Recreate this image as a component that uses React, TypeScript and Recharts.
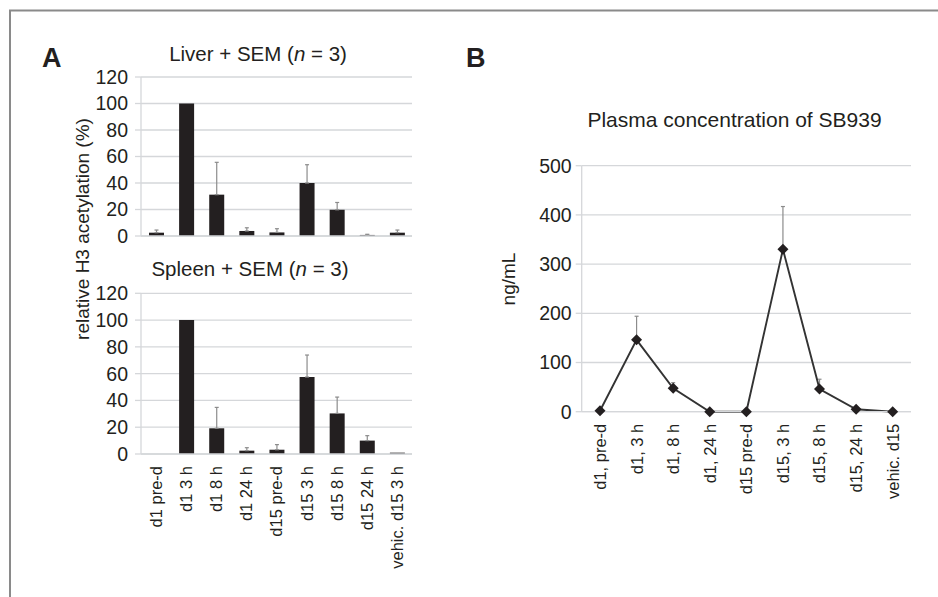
import React from 'react';
import { BarChart, Bar, LineChart, Line, XAxis, YAxis, CartesianGrid, ErrorBar } from 'recharts';

// categories
const tissueTimes = ['d1 pre-d', 'd1 3 h', 'd1 8 h', 'd1 24 h', 'd15 pre-d', 'd15 3 h', 'd15 8 h', 'd15 24 h', 'vehic. d15 3 h'];
const plasmaTimes = ['d1, pre-d', 'd1, 3 h', 'd1, 8 h', 'd1, 24 h', 'd15 pre-d', 'd15, 3 h', 'd15, 8 h', 'd15, 24 h', 'vehic. d15'];

// relative H3 acetylation (%) + SEM
const liver = [2.5, 100, 31.2, 3.8, 2.7, 40, 19.8, 0.8, 2.5];
const liverSem = [2, null, 24.4, 2.4, 2.8, 13.8, 5.5, 0.5, 2];
const spleen = [0, 100, 19.2, 2.5, 3.2, 57.5, 30.3, 10, 1];
const spleenSem = [null, null, 15.6, 2.2, 3.8, 16.4, 12.2, 3.7, null];

// plasma concentration ng/mL + SEM
const plasma = [2, 146, 47.5, 0, 0, 330, 46, 5, 0];
const plasmaSem = [null, 48, 11.5, null, null, 87, 20, null, null];

const pctTicks = [0, 20, 40, 60, 80, 100, 120];
const ngTicks = [0, 100, 200, 300, 400, 500];

const FONT = '"Liberation Sans", Arial, sans-serif';
const INK = '#231f20';
const GRID = '#d5d7da';
const ERR = '#8c8c8c';

const upOnly = (s: number | null) => (s == null ? null : [0, s]);

const liverData = tissueTimes.map((t, i) => ({ t, v: liver[i], e: upOnly(liverSem[i]) }));
const spleenData = tissueTimes.map((t, i) => ({ t, v: spleen[i], e: upOnly(spleenSem[i]) }));
const plasmaData = plasmaTimes.map((t, i) => ({ t, v: plasma[i], e: upOnly(plasmaSem[i]) }));

function RotTick({ x, y, payload }: any) {
  return (
    <g transform={`translate(${x},${y})`}>
      <text transform="rotate(-90)" textAnchor="end" dy="0.36em" fontSize={16.5} fill={INK} fontFamily={FONT}>
        {payload.value}
      </text>
    </g>
  );
}

function Diamond(props: any) {
  const { cx, cy, index } = props;
  if (cx == null || cy == null) return <g key={index} />;
  return <path key={index} d={`M${cx},${cy - 5.5}L${cx + 5.5},${cy}L${cx},${cy + 5.5}L${cx - 5.5},${cy}Z`} fill={INK} />;
}

const yTick = { fontSize: 19.5, fill: INK, fontFamily: FONT };

function TissuePanel({ data, top, height, marginTop, xHeight, labels }: any) {
  return (
    <div style={{ position: 'absolute', left: 0, top }}>
      <BarChart width={420} height={height} data={data} margin={{ top: marginTop, right: 8, bottom: 0, left: 0 }} barSize={15}>
        <CartesianGrid vertical={false} stroke={GRID} strokeWidth={1.3} />
        <XAxis
          dataKey="t"
          height={xHeight}
          axisLine={{ stroke: GRID, strokeWidth: 1.3 }}
          tickLine={false}
          tickSize={0}
          tickMargin={12}
          interval={0}
          tick={labels ? <RotTick /> : false}
        />
        <YAxis
          width={141}
          domain={[0, 120]}
          ticks={pctTicks}
          interval={0}
          axisLine={{ stroke: GRID, strokeWidth: 1.3 }}
          tickLine={{ stroke: GRID, strokeWidth: 1.3 }}
          tickSize={6}
          tickMargin={7}
          tick={yTick}
        />
        <Bar dataKey="v" fill={INK} isAnimationActive={false}>
          <ErrorBar dataKey="e" width={2} stroke={ERR} strokeWidth={1.2} />
        </Bar>
      </BarChart>
    </div>
  );
}

export default function App() {
  return (
    <div style={{ position: 'absolute', left: 0, top: 0, width: 938, height: 597, background: '#fff', overflow: 'hidden', fontFamily: FONT }}>
      <TissuePanel data={liverData} top={0} height={250} marginTop={77} xHeight={14} labels={false} />
      <TissuePanel data={spleenData} top={250} height={330} marginTop={43.3} xHeight={126} labels={true} />

      <div style={{ position: 'absolute', left: 430, top: 100 }}>
        <LineChart width={508} height={420} data={plasmaData} margin={{ top: 65.7, right: 27, bottom: 0, left: 0 }}>
          <CartesianGrid vertical={false} stroke={GRID} strokeWidth={1.3} />
          <XAxis
            dataKey="t"
            height={108.3}
            padding={{ left: 18.3, right: 18.3 }}
            axisLine={{ stroke: GRID, strokeWidth: 1.3 }}
            tickLine={false}
            tickSize={0}
            tickMargin={12}
            interval={0}
            tick={<RotTick />}
          />
          <YAxis
            width={151.7}
            domain={[0, 500]}
            ticks={ngTicks}
            interval={0}
            axisLine={{ stroke: GRID, strokeWidth: 1.3 }}
            tickLine={{ stroke: GRID, strokeWidth: 1.3 }}
            tickSize={6}
            tickMargin={4}
            tick={yTick}
          />
          <Line type="linear" dataKey="v" stroke="#333" strokeWidth={1.9} dot={Diamond} activeDot={false} isAnimationActive={false}>
            <ErrorBar dataKey="e" width={2} stroke={ERR} strokeWidth={1.2} />
          </Line>
        </LineChart>
      </div>

      <svg width={938} height={597} style={{ position: 'absolute', left: 0, top: 0, pointerEvents: 'none' }} fontFamily={FONT}>
        <line x1={9} y1={10.5} x2={938} y2={10.5} stroke="#8a8a8a" strokeWidth={2} />
        <line x1={10} y1={10} x2={10} y2={597} stroke="#8a8a8a" strokeWidth={2} />
        <text x={42} y={67} fontSize={27} fontWeight="bold" fill={INK}>A</text>
        <text x={466} y={67} fontSize={27} fontWeight="bold" fill={INK}>B</text>
        <text x={258} y={61} fontSize={20.5} textAnchor="middle" fill={INK}>
          Liver + SEM (<tspan fontStyle="italic">n</tspan> = 3)
        </text>
        <text x={250} y={276} fontSize={20.5} textAnchor="middle" fill={INK}>
          Spleen + SEM (<tspan fontStyle="italic">n</tspan> = 3)
        </text>
        <text transform="translate(82,229) rotate(-90)" dy="0.36em" fontSize={19} textAnchor="middle" fill={INK}>
          relative H3 acetylation (%)
        </text>
        <text x={734.5} y={127} fontSize={21} textAnchor="middle" fill={INK}>Plasma concentration of SB939</text>
        <text transform="translate(508,279) rotate(-90)" dy="0.36em" fontSize={19} textAnchor="middle" fill={INK}>ng/mL</text>
      </svg>
    </div>
  );
}
